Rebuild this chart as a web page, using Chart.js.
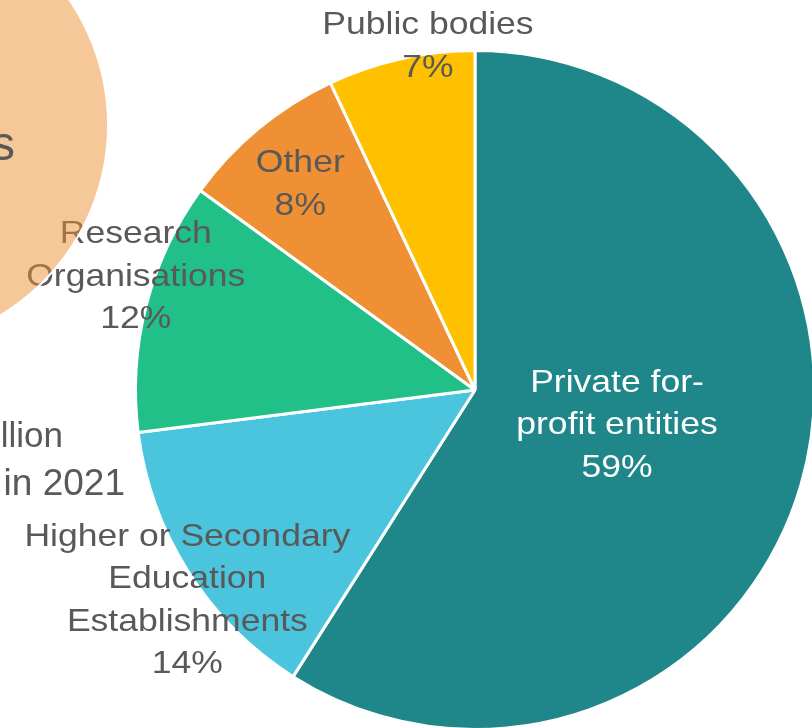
<!DOCTYPE html>
<html><head><meta charset="utf-8">
<script src="https://cdn.jsdelivr.net/npm/chart.js@4"></script>
<style>
html,body{margin:0;padding:0;width:812px;height:728px;overflow:hidden;background:#fff;}
#main{position:absolute;left:0;top:0;}
#side{position:absolute;left:-400px;top:-150px;}
</style></head><body>
<canvas id="main" width="950" height="780"></canvas>
<canvas id="side" width="900" height="700"></canvas>
<script>
// ---- data ----
const categories = ["Private for-profit entities", "Higher or Secondary Education Establishments", "Research Organisations", "Other", "Public bodies"];
const shares = [59, 14, 12, 8, 7];
const labelLines = [["Private for-", "profit entities"], ["Higher or Secondary", "Education", "Establishments"], ["Research", "Organisations"], ["Other"], ["Public bodies"]];
const sliceColors = ["#1F878A", "#4BC4DD", "#20C088", "#EE9033", "#FFC000"];
// neighbouring (cropped) chart
const sideCategories = ["Total"];
const sideValues = [100];
const sideTexts = ["s", "llion", "in 2021"];

const FONT_FAMILY = '"Liberation Sans", Arial, sans-serif';

// label placement: radius factor and angle tweak (deg) from slice middle
const labelPlace = [
  {f: 0.431, d: -2.2, color: "#FFFFFF"},
  {f: 1.05, d: -3.8, color: "#595959"},
  {f: 1.053, d: 4.0, color: "#595959"},
  {f: 0.794, d: -0.8, color: "#595959"},
  {f: 1.021, d: 4.8, color: "#595959"}
];

const labelPlugin = {
  id: 'sliceLabels',
  afterDatasetsDraw(chart, args, opts) {
    const ctx = chart.ctx;
    const meta = chart.getDatasetMeta(0);
    meta.data.forEach((arc, i) => {
      const p = arc.getProps(['x', 'y', 'startAngle', 'endAngle', 'outerRadius'], true);
      const place = opts.place[i];
      const a = (p.startAngle + p.endAngle) / 2 + place.d * Math.PI / 180;
      const R = p.outerRadius * place.f;
      const cx = p.x + Math.cos(a) * R, cy = p.y + Math.sin(a) * R;
      const lines = labelLines[i].concat([shares[i] + '%']);
      const n = lines.length;
      lines.forEach((t, k) => {
        ctx.save();
        ctx.font = opts.font;
        ctx.textAlign = 'center';
        ctx.textBaseline = 'middle';
        ctx.fillStyle = place.color;
        ctx.translate(cx, cy + (k - (n - 1) / 2) * opts.lineHeight);
        ctx.scale(opts.stretch, 1);
        ctx.fillText(t, 0, 0);
        ctx.restore();
      });
    });
  }
};

new Chart(document.getElementById('main'), {
  type: 'pie',
  data: {
    labels: categories,
    datasets: [{
      data: shares,
      backgroundColor: sliceColors,
      borderColor: '#FFFFFF',
      borderWidth: 3
    }]
  },
  options: {
    responsive: false,
    animation: false,
    events: [],
    layout: {padding: {left: 134, right: 134, top: 49, bottom: 49}},
    plugins: {
      legend: {display: false},
      tooltip: {enabled: false},
      sliceLabels: {
        font: '32px ' + FONT_FAMILY,
        stretch: 1.11,
        lineHeight: 42.5,
        place: labelPlace
      }
    }
  },
  plugins: [labelPlugin]
});

// side (cropped) chart drawn on top, semi-transparent
const sideTextPlugin = {
  id: 'sideTexts',
  afterDatasetsDraw(chart, args, opts) {
    const ctx = chart.ctx;
    const arc = chart.getDatasetMeta(0).data[0];
    const c = arc.getProps(['x', 'y'], true);
    ctx.save();
    ctx.fillStyle = '#595959';
    ctx.textAlign = 'right';
    ctx.textBaseline = 'alphabetic';
    opts.items.forEach((it, i) => {
      ctx.font = it.size + 'px ' + FONT_FAMILY;
      ctx.fillText(sideTexts[i], c.x + it.dx, c.y + it.dy);
    });
    ctx.restore();
  }
};

new Chart(document.getElementById('side'), {
  type: 'pie',
  data: {
    labels: sideCategories,
    datasets: [{
      data: sideValues,
      backgroundColor: 'rgba(238,144,51,0.5)',
      borderColor: '#FFFFFF',
      borderWidth: 2
    }]
  },
  options: {
    responsive: false,
    animation: false,
    events: [],
    layout: {padding: {left: 63, right: 391, top: 52, bottom: 202}},
    plugins: {
      legend: {display: false},
      tooltip: {enabled: false},
      sideTexts: {
        items: [
          {dx: 129, dy: 35, size: 48},
          {dx: 177, dy: 322, size: 35},
          {dx: 239, dy: 370, size: 37}
        ]
      }
    }
  },
  plugins: [sideTextPlugin]
});
</script>
</body></html>
